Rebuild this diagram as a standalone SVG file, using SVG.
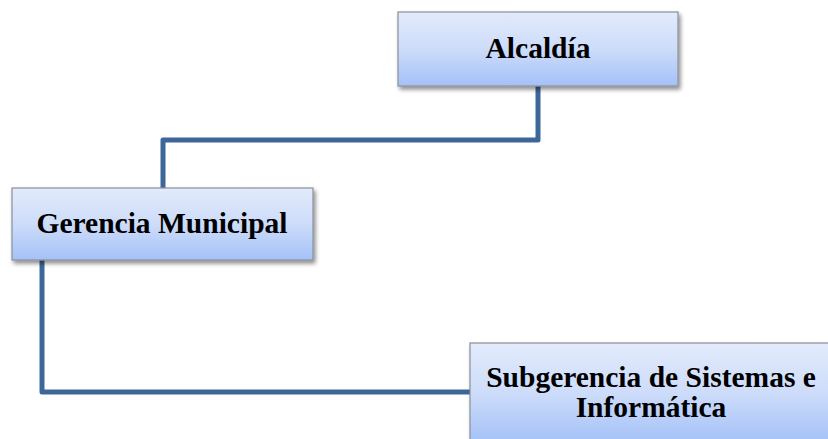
<svg xmlns="http://www.w3.org/2000/svg" width="828" height="439" viewBox="0 0 828 439">
  <defs>
    <linearGradient id="boxFill" x1="0" y1="0" x2="0" y2="1">
      <stop offset="0" stop-color="#e3ebfb"/>
      <stop offset="0.5" stop-color="#cddcfa"/>
      <stop offset="1" stop-color="#a4c1f8"/>
    </linearGradient>
    <filter id="shadow" x="-10%" y="-10%" width="120%" height="130%">
      <feGaussianBlur in="SourceAlpha" stdDeviation="2"/>
      <feOffset dx="2" dy="3" result="b"/>
      <feComponentTransfer><feFuncA type="linear" slope="0.45"/></feComponentTransfer>
      <feMerge><feMergeNode/><feMergeNode in="SourceGraphic"/></feMerge>
    </filter>
  </defs>
  <style>
    .box { fill: url(#boxFill); stroke: #8a8f98; stroke-width: 1.2; filter: url(#shadow); }
    .label { font-family: "Liberation Serif", "Times New Roman", serif; font-weight: bold; font-size: 29.5px; fill: #000; text-anchor: middle; }
    .link { fill: none; stroke: #3d6699; stroke-width: 5; stroke-linejoin: round; }
  </style>
  <rect width="828" height="439" fill="#ffffff"/>

  <g id="connectors">
    <path class="link" d="M538 86 V140 H163 V188"/>
    <path class="link" d="M42 260 V392 H470"/>
  </g>

  <g id="alcaldia">
    <rect class="box" x="398" y="12" width="280" height="74"/>
    <text class="label" x="538" y="58">Alcaldía</text>
  </g>

  <g id="gerencia-municipal">
    <rect class="box" x="12" y="188" width="301" height="72"/>
    <text class="label" x="162" y="233">Gerencia Municipal</text>
  </g>

  <g id="subgerencia-sistemas">
    <rect class="box" x="470" y="343" width="362" height="100"/>
    <text class="label" x="651" y="387">Subgerencia de Sistemas e</text>
    <text class="label" x="651" y="417">Informática</text>
  </g>
</svg>
